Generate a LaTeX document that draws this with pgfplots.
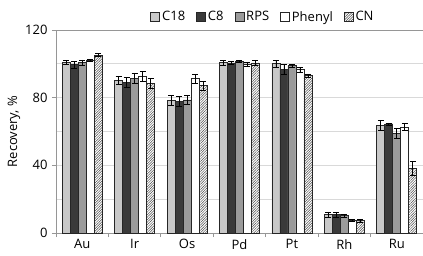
\documentclass[border=0pt]{standalone}
\usepackage{pgfplots}
\pgfplotsset{compat=1.18}
\usepackage{pgfplotstable}
\usepackage{fontspec}
\setmainfont{Open Sans}
\usetikzlibrary{patterns,patterns.meta}

\pgfplotstableread{
x  v   e
0  100.8 1
1  90.2  2.5
2  78.3  3
3  100.7 1.5
4  100.0 2
5  11.0  1.5
6  63.4  3
}\Cone
\pgfplotstableread{
x  v   e
0  99.5  2
1  89.0  3
2  77.6  3
3  100.5 1
4  96.5  3
5  11.0  1.5
6  64.5  0.6
}\Ctwo
\pgfplotstableread{
x  v   e
0  100.8 1.5
1  91.6  3
2  78.7  2.5
3  101.6 0.6
4  98.9  0.8
5  10.3  0.8
6  59.0  3
}\Cthree
\pgfplotstableread{
x  v   e
0  102.0 0.6
1  92.6  3
2  91.2  2.5
3  99.8  1
4  96.5  1.5
5  7.6   0.6
6  62.6  2
}\Cfour
\pgfplotstableread{
x  v   e
0  105.2 1
1  88.6  3
2  87.0  2.5
3  100.5 1.5
4  93.0  1
5  7.3   0.8
6  38.3  4
}\Cfive

\definecolor{cA}{RGB}{200,200,200}
\definecolor{cB}{RGB}{58,58,58}
\definecolor{cC}{RGB}{155,155,155}
\definecolor{gridc}{RGB}{217,217,217}
\definecolor{axc}{RGB}{150,150,150}

\begin{document}
\begin{tikzpicture}
\begin{axis}[
  name=ax,
  scale only axis,
  width=367pt, height=203pt,
  font=\fontsize{13}{15}\selectfont,
  /pgf/number format/assume math mode=true,
  ybar=0pt, bar width=8pt,
  xmin=-0.5, xmax=6.5,
  ymin=0, ymax=120,
  xtick={0,...,6},
  xticklabels={Au,Ir,Os,Pd,Pt,Rh,Ru},
  minor xtick={-0.5,0.5,...,6.5},
  ytick={0,40,80,120},
  minor ytick={20,60,100},
  ymajorgrids, yminorgrids,
  grid style={gridc, line width=0.8pt},
  minor grid style={gridc, line width=0.8pt},
  axis x line*=bottom, axis y line*=left,
  axis line style={axc, line width=0.8pt, -},
  major x tick style={draw=none},
  minor x tick style={axc, line width=0.8pt},
  major y tick style={axc, line width=0.8pt},
  minor y tick style={draw=none},
  tick align=outside, major tick length=4pt, minor tick length=4pt,
  ylabel={Recovery, \%},
  ylabel style={yshift=-2pt},
  xticklabel style={yshift=1pt},
  yticklabel style={xshift=-1pt},
  legend style={at={(0.564,1.025)}, anchor=south, draw=none, fill=none,
    legend columns=5, /tikz/every even column/.append style={column sep=9pt},
    font=\fontsize{13}{15}\selectfont, inner sep=0pt},
  legend image code/.code={\draw[#1, line width=0.7pt] (0pt,-4.5pt) rectangle (9pt,4.5pt);},
  legend cell align=left,
  error bars/error bar style={black, line width=0.7pt},
  error bars/error mark options={rotate=90, mark size=3pt, line width=0.7pt},
  every axis plot/.append style={draw=black!85, line width=0.7pt},
]
\addplot[fill=cA, error bars/.cd, y dir=both, y explicit] table[x=x,y=v,y error=e]{\Cone};
\addplot[fill=cB, error bars/.cd, y dir=both, y explicit] table[x=x,y=v,y error=e]{\Ctwo};
\addplot[fill=cC, error bars/.cd, y dir=both, y explicit] table[x=x,y=v,y error=e]{\Cthree};
\addplot[fill=white, error bars/.cd, y dir=both, y explicit] table[x=x,y=v,y error=e]{\Cfour};
\addplot[fill=white, postaction={pattern={Lines[angle=45, distance=1.8pt, line width=0.5pt]}, pattern color=black!70}, error bars/.cd, y dir=both, y explicit] table[x=x,y=v,y error=e]{\Cfive};
\legend{C18,C8,RPS,Phenyl,CN}
\draw[axc, line width=0.8pt] (rel axis cs:0,1) -- (rel axis cs:1,1);
\end{axis}
\pgfresetboundingbox
\path (ax.south west) ++(-56pt,-22pt) rectangle ++(423pt,255pt);
\end{tikzpicture}
\end{document}
